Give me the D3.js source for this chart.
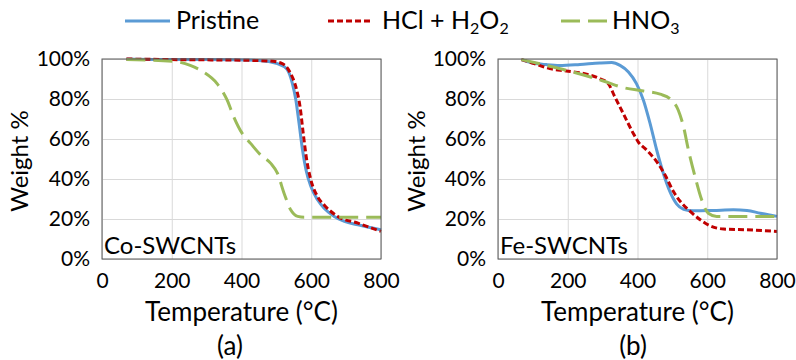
<!DOCTYPE html>
<html>
<head>
<meta charset="utf-8">
<script src="https://cdn.jsdelivr.net/npm/d3@7"></script>
<style>
  body { margin: 0; background: #fff; }
  svg text { font-family: Lato, "Open Sans", sans-serif; fill: #000; }
</style>
</head>
<body>
<script>
// TGA curves: temperature (°C) and weight fraction
const coPristineT = [70, 150, 300, 450, 503, 530, 546, 556, 565, 575, 585, 599, 618, 637, 666, 695, 734, 800];
const coPristineW = [1.0, .998, .998, .993, .977, .95, .877, .794, .678, .545, .445, .362, .296, .254, .213, .188, .171, .146];
const coHclT = [70, 200, 400, 480, 517, 541, 556, 568, 577, 587, 599, 618, 637, 676, 734, 800];
const coHclW = [1.0, .997, .994, .99, .977, .927, .86, .76, .628, .495, .395, .312, .27, .213, .179, .138];
const coHno3T = [70, 205, 253, 291, 330, 359, 378, 402, 426, 455, 484, 503, 522, 541, 561, 580, 800];
const coHno3W = [.997, .988, .968, .935, .877, .794, .71, .628, .578, .52, .478, .429, .329, .246, .213, .209, .209];

const fePristineT = [67, 100, 139, 177, 235, 292, 326, 350, 374, 397, 417, 436, 455, 474, 493, 512, 532, 560, 618, 675, 714, 752, 800];
const fePristineW = [.997, .98, .972, .968, .973, .98, .982, .968, .935, .877, .794, .678, .545, .429, .337, .276, .249, .241, .243, .246, .243, .229, .213];
const feHclT = [67, 110, 148, 196, 254, 292, 316, 335, 359, 388, 402, 426, 455, 479, 503, 527, 551, 580, 608, 647, 714, 800];
const feHclW = [.997, .973, .952, .94, .924, .902, .877, .811, .728, .628, .586, .545, .487, .42, .337, .279, .238, .196, .166, .15, .146, .138];
const feHno3T = [67, 139, 225, 302, 359, 417, 465, 493, 517, 532, 546, 565, 584, 603, 627, 800];
const feHno3W = [.997, .968, .93, .89, .857, .84, .824, .802, .744, .661, .545, .412, .296, .229, .213, .213];

const seriesNames = ["Pristine", "HCl + H2O2", "HNO3"];
const xTicks = [0, 200, 400, 600, 800];
const yTicks = [0, .2, .4, .6, .8, 1];
const panelNames = ["Co-SWCNTs", "Fe-SWCNTs"];
const captions = ["(a)", "(b)"];

const styles = [
  {color: "#5b9bd5", dash: null},
  {color: "#c00000", dash: "6,3"},
  {color: "#9bbb59", dash: "19,8"}
];

const svg = d3.select("body").append("svg")
  .attr("width", 796).attr("height", 360);

const panels = [
  {left: 102, right: 381, caption: 230, ylab: 28,
   series: [[coPristineT, coPristineW], [coHclT, coHclW], [coHno3T, coHno3W]]},
  {left: 498, right: 777, caption: 633, ylab: 425,
   series: [[fePristineT, fePristineW], [feHclT, feHclW], [feHno3T, feHno3W]]}
];
const plotTop = 59, plotBottom = 259;

panels.forEach((p, i) => {
  const x = d3.scaleLinear().domain([0, 800]).range([p.left, p.right]);
  const y = d3.scaleLinear().domain([0, 1]).range([plotBottom, plotTop]);

  // grid lines
  svg.append("g")
    .attr("transform", `translate(0,${plotBottom})`)
    .call(d3.axisBottom(x).tickValues(xTicks).tickSize(-(plotBottom - plotTop)).tickFormat(""))
    .call(g => g.select(".domain").remove())
    .selectAll("line").attr("stroke", "#d9d9d9");
  svg.append("g")
    .attr("transform", `translate(${p.left},0)`)
    .call(d3.axisLeft(y).tickValues(yTicks).tickSize(-(p.right - p.left)).tickFormat(""))
    .call(g => g.select(".domain").remove())
    .selectAll("line").attr("stroke", "#d9d9d9");

  // tick labels
  const xa = svg.append("g")
    .attr("transform", `translate(0,${plotBottom})`)
    .call(d3.axisBottom(x).tickValues(xTicks).tickSize(0).tickPadding(14));
  xa.select(".domain").remove();
  xa.selectAll("text").attr("font-size", 21).style("font-family", "Lato");

  const ya = svg.append("g")
    .attr("transform", `translate(${p.left},0)`)
    .call(d3.axisLeft(y).tickValues(yTicks).tickSize(0).tickPadding(12).tickFormat(d3.format(".0%")));
  ya.select(".domain").remove();
  ya.selectAll("text").attr("font-size", 21).style("font-family", "Lato");

  // curves
  const line = d3.line()
    .x(d => x(d[0])).y(d => y(d[1]))
    .curve(d3.curveMonotoneX);
  p.series.forEach((s, k) => {
    const pts = d3.zip(s[0], s[1]);
    svg.append("path")
      .datum(pts)
      .attr("d", line)
      .attr("fill", "none")
      .attr("stroke", styles[k].color)
      .attr("stroke-width", 3)
      .attr("stroke-dasharray", styles[k].dash);
  });

  // plot border
  svg.append("rect")
    .attr("x", p.left).attr("y", plotTop)
    .attr("width", p.right - p.left).attr("height", plotBottom - plotTop)
    .attr("fill", "none").attr("stroke", "#595959").attr("stroke-width", 1);

  svg.append("text")
    .attr("x", p.left + 2).attr("y", plotBottom - 5)
    .attr("font-size", 24)
    .text(panelNames[i]);

  svg.append("text")
    .attr("x", (p.left + p.right) / 2).attr("y", 321)
    .attr("text-anchor", "middle").attr("font-size", 26)
    .text("Temperature (\u00B0C)");

  svg.append("text")
    .attr("x", p.caption).attr("y", 355)
    .attr("text-anchor", "middle").attr("font-size", 26)
    .text(captions[i]);

  svg.append("text")
    .attr("transform", `translate(${p.ylab},${(plotTop + plotBottom) / 2 + 2}) rotate(-90)`)
    .attr("text-anchor", "middle").attr("font-size", 24)
    .text("Weight %");
});

// legend
const legend = [
  {x1: 125, x2: 170, tx: 176},
  {x1: 328, x2: 373, tx: 382},
  {x1: 561, x2: 607, tx: 612}
];
legend.forEach((l, k) => {
  svg.append("line")
    .attr("x1", l.x1).attr("x2", l.x2).attr("y1", 21).attr("y2", 21)
    .attr("stroke", styles[k].color).attr("stroke-width", 3)
    .attr("stroke-dasharray", styles[k].dash);
  const t = svg.append("text").attr("x", l.tx).attr("y", 29).attr("font-size", 25);
  // chemical subscripts
  const parts = seriesNames[k].split(/(\d)/);
  parts.forEach(part => {
    if (part === "") return;
    if (/\d/.test(part)) {
      t.append("tspan").attr("font-size", 16).attr("dy", 5).text(part);
    } else {
      const ts = t.append("tspan").text(part);
      if (t.selectAll("tspan").size() > 1) ts.attr("dy", -5);
    }
  });
});
</script>
</body>
</html>
